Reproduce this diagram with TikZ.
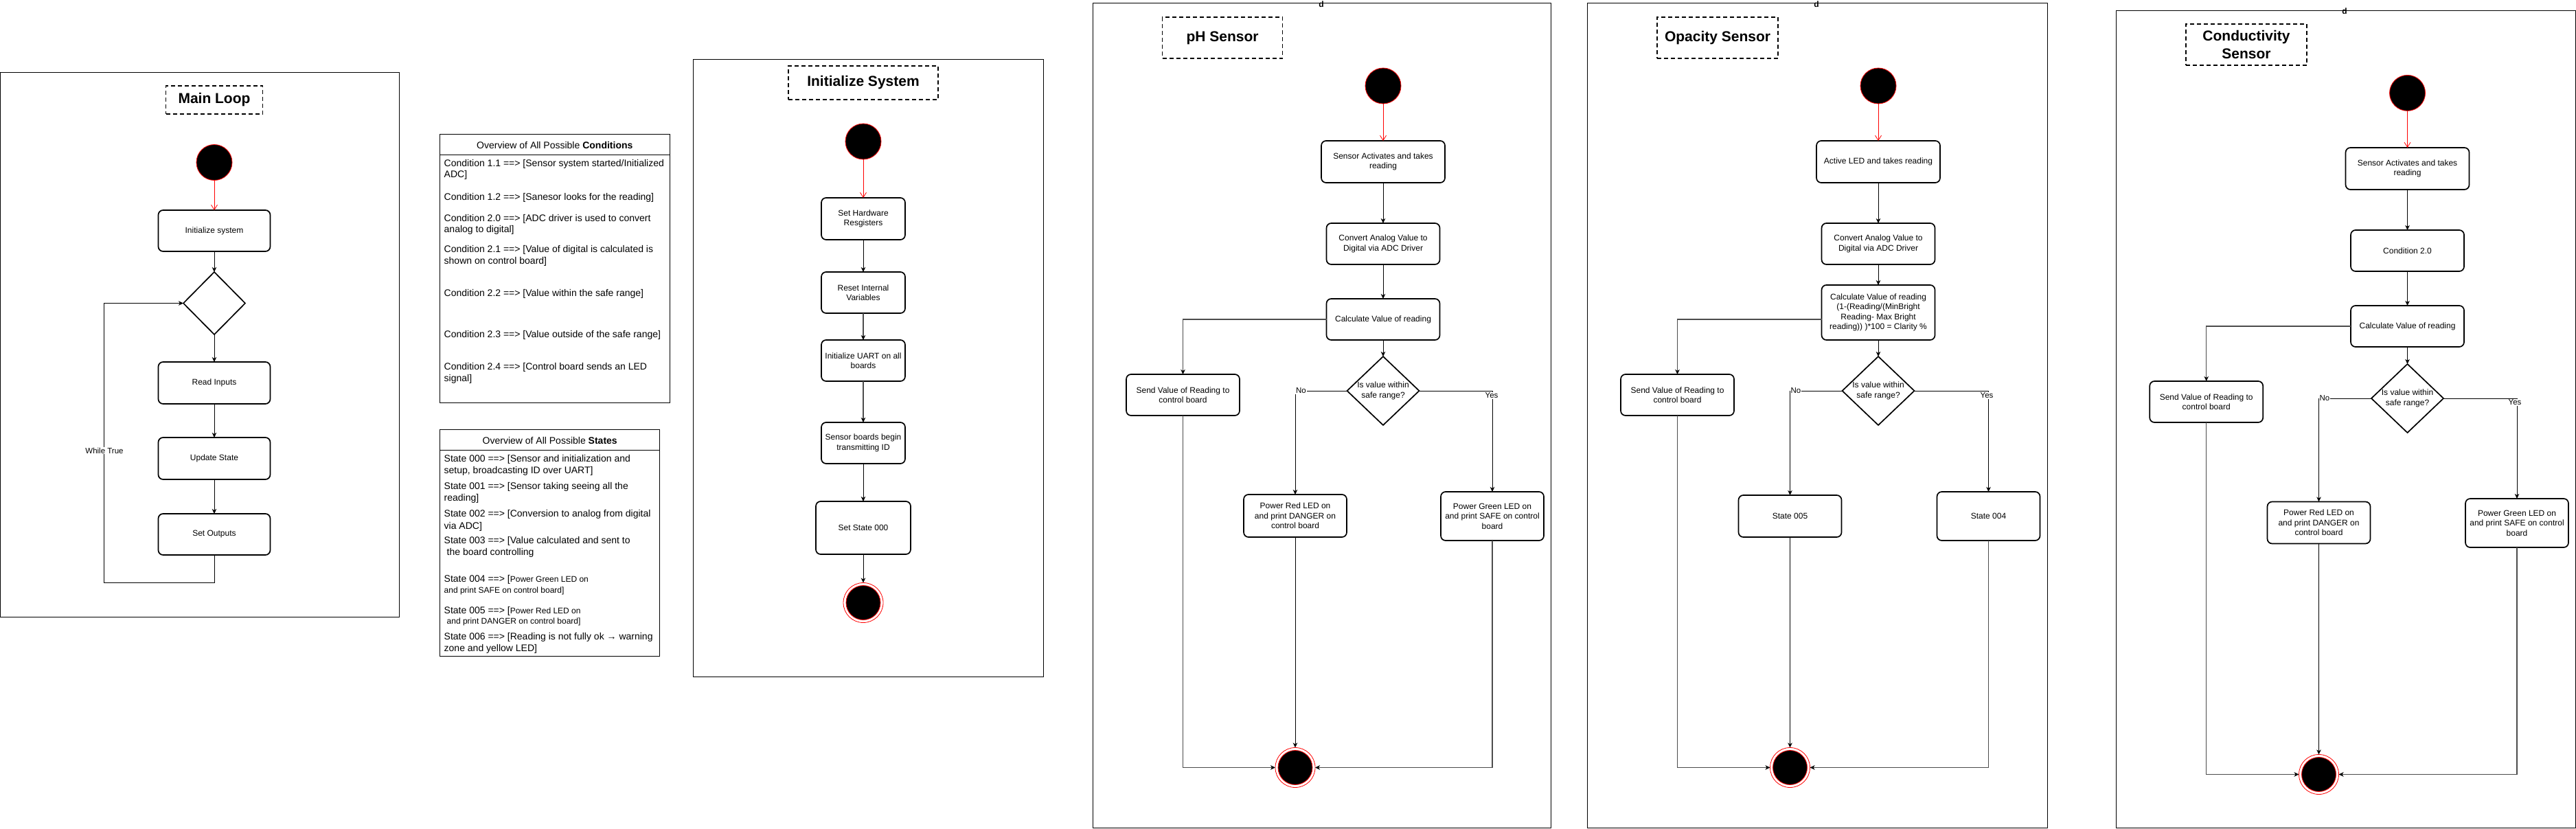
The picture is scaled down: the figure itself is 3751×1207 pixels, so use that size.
\documentclass[tikz,border=0pt]{standalone}
\usepackage{fontspec}
\setmainfont{Liberation Sans}
\usetikzlibrary{arrows.meta,shapes.geometric,calc}
\begin{document}
\begin{tikzpicture}[x=1pt,y=-1pt,
  every node/.style={inner sep=0pt,outer sep=0pt,font=\fontsize{12}{14.5}\selectfont},
  frame/.style={draw=black,line width=1pt},
  box/.style 2 args={draw=black,line width=1.7pt,rounded corners=7pt,align=center,minimum width=#1pt,minimum height=#2pt},
  dianode/.style 2 args={diamond,draw=black,line width=1.7pt,minimum width=#1pt,minimum height=#2pt},
  titlebox/.style 2 args={draw=black,dash pattern=on 6pt off 4pt,line width=1.7pt,minimum width=#1pt,minimum height=#2pt,align=center,font=\fontsize{21}{25.5}\selectfont\bfseries},
  startnode/.style={circle,fill=black,draw=red,line width=0.8pt,minimum size=52pt},
  endnode/.style={circle,draw=red,line width=0.8pt,minimum size=58pt,
    path picture={\fill[black,draw=red,line width=0.8pt] (path picture bounding box.center) circle (25pt);}},
  conn/.style={draw=black,line width=1pt,-{Stealth[length=7pt,width=6.5pt,inset=2pt]}},
  gconn/.style={draw=black!70,line width=1.2pt,-{Stealth[length=7pt,width=6.5pt,inset=2pt,color=black]}},
  redarr/.style={draw=red,line width=0.8pt,-{Straight Barb[length=7pt,width=9pt]}},
  lbl/.style={fill=white,inner sep=1pt,font=\fontsize{11.5}{13}\selectfont},
  qtxt/.style={align=center,font=\fontsize{12}{14.5}\selectfont},
  dmark/.style={font=\fontsize{12}{14}\selectfont\bfseries},
  line/.style={anchor=base west,font=\fontsize{14}{16}\selectfont},
  sline/.style={anchor=base west,font=\fontsize{12}{14}\selectfont},
  hdr/.style={font=\fontsize{14}{16}\selectfont}
]
\useasboundingbox (0,0) rectangle (3751,1207);

% ================= Main Loop =================
\draw[frame] (0.6,105.5) rectangle (581,898);
\node[titlebox={141}{41}] (mlT) at (312,145.5) {Main Loop};
\node[startnode] (mlS) at (312,236.5) {};
\node[box={163}{60}] (mlI) at (312,336) {Initialize system};
\node[dianode={90}{91}] (mlD) at (312,441.5) {};
\node[box={163}{61}] (mlR) at (312,557.5) {Read Inputs};
\node[box={163}{61}] (mlU) at (312,667.5) {Update State};
\node[box={163}{60}] (mlO) at (312,778) {Set Outputs};
\coordinate (mlL) at (151,848);
\draw[redarr] (mlS) -- (mlI);
\draw[conn] (mlI) -- (mlD);
\draw[conn] (mlD) -- (mlR);
\draw[conn] (mlR) -- (mlU);
\draw[conn] (mlU) -- (mlO);
\draw[conn] (mlO.south) |- (mlL) |- (mlD.west);
\node[lbl] (mlW) at (152,656) {While True};

% ================= Conditions =================
\draw[line width=1pt] (640.7,195) rectangle (975,586);
\draw[line width=1pt] (640.7,225) -- (975,225);
\node[hdr] (condH) at (807.8,211) {Overview of All Possible \textbf{Conditions}};
\node[line] (c1) at (646.7,242.3) {Condition 1.1 ==> [Sensor system started/Initialized};
\node[line] (c2) at (646.7,258.3) {ADC]};
\node[line] (c3) at (646.7,291.7) {Condition 1.2 ==> [Sanesor looks for the reading]};
\node[line] (c4) at (646.7,322.3) {Condition 2.0 ==> [ADC driver is used to convert};
\node[line] (c5) at (646.7,338.3) {analog to digital]};
\node[line] (c6) at (646.7,367.7) {Condition 2.1 ==> [Value of digital is calculated is};
\node[line] (c7) at (646.7,384.3) {shown on control board]};
\node[line] (c8) at (646.7,431.7) {Condition 2.2 ==> [Value within the safe range]};
\node[line] (c9) at (646.7,491.7) {Condition 2.3 ==> [Value outside of the safe range]};
\node[line] (c10) at (646.7,538.3) {Condition 2.4 ==> [Control board sends an LED};
\node[line] (c11) at (646.7,555) {signal]};

% ================= States =================
\draw[line width=1pt] (640.7,625) rectangle (960.7,955);
\draw[line width=1pt] (640.7,655) -- (960.7,655);
\node[hdr] (stH) at (800.7,641.7) {Overview of All Possible \textbf{States}};
\node[line] (s1) at (646.7,672.3) {State 000 ==> [Sensor and initialization and};
\node[line] (s2) at (646.7,689) {setup, broadcasting ID over UART]};
\node[line] (s3) at (646.7,712.3) {State 001 ==> [Sensor taking seeing all the};
\node[line] (s4) at (646.7,729) {reading]};
\node[line] (s5) at (646.7,752.3) {State 002 ==> [Conversion to analog from digital};
\node[line] (s6) at (646.7,770) {via ADC]};
\node[line] (s7) at (646.7,791.7) {State 003 ==> [Value calculated and sent to};
\node[line] (s8) at (650.7,808.3) {the board controlling};
\node[line] (s9) at (646.7,847.7) {State 004 ==> [{\fontsize{12}{14}\selectfont Power Green LED on}};
\node[sline] (s10) at (646.7,863.6) {and print SAFE on control board]};
\node[line] (s11) at (646.7,893.3) {State 005 ==> [{\fontsize{12}{14}\selectfont Power Red LED on}};
\node[sline] (s12) at (650.7,908.3) {and print DANGER on control board]};
\node[line] (s13) at (646.7,931.7) {State 006 ==> [Reading is not fully ok → warning};
\node[line] (s14) at (646.7,948.3) {zone and yellow LED]};

% ================= Initialize System =================
\draw[frame] (1009,86) rectangle (1519,985);
\node[titlebox={218}{49}] (inT) at (1257,120.5) {Initialize System};
\node[startnode] (inS) at (1257,206) {};
\node[box={122}{61}] (in1) at (1257,318.5) {Set Hardware\\Resgisters};
\node[box={122}{60}] (in2) at (1257,426) {Reset Internal\\Variables};
\node[box={122}{60}] (in3) at (1257,525) {Initialize UART on all\\boards};
\node[box={122}{60}] (in4) at (1257,645) {Sensor boards begin\\transmitting ID};
\node[box={138}{77}] (in5) at (1257,768.5) {Set State 000};
\node[endnode] (inX) at (1257,877.5) {};
\draw[redarr] (inS) -- (in1);
\draw[conn] (in1) -- (in2);
\draw[gconn] (in2) -- (in3);
\draw[gconn] (in3) -- (in4);
\draw[conn] (in4) -- (in5);
\draw[conn] (in5) -- (inX);

% ================= pH Sensor =================
\draw[frame] (1591,5) rectangle (2258,1205);
\node[dmark] (phd) at (1924,6.5) {d};
\node[titlebox={175}{60}] (phT) at (1780,55) {pH Sensor};
\node[startnode] (phS) at (2014,125) {};
\node[box={180}{61}] (phA) at (2014,235.5) {Sensor Activates and takes\\reading};
\node[box={165}{60}] (phB) at (2014,355) {Convert Analog Value to\\Digital via ADC Driver};
\node[box={165}{60}] (phC) at (2014,465) {Calculate Value of reading};
\node[dianode={105}{100}] (phQ) at (2014,569) {};
\node[qtxt] (phQt) at (phQ.center) {Is value within\\safe range?};
\node[box={165}{60}] (phD) at (1722.5,575) {Send Value of Reading to\\control board};
\node[box={150}{62}] (phE) at (1886,751) {Power Red LED on\\and print DANGER on\\control board};
\node[box={150}{71}] (phF) at (2173,751.5) {Power Green LED on\\and print SAFE on control\\board};
\node[endnode] (phX) at (1886,1117.5) {};
\draw[redarr] (phS) -- (phA);
\draw[conn] (phA) -- (phB);
\draw[conn] (phB) -- (phC);
\draw[conn] (phC) -- (phQ);
\draw[gconn] (phC.west) -| (phD.north);
\draw[conn] (phQ.west) -| (phE.north);
\draw[conn] (phQ.east) -| (phF.north);
\draw[gconn] (phD.south) |- (phX.west);
\draw[conn] (phE) -- (phX);
\draw[gconn] (phF.south) |- (phX.east);
\node[lbl,anchor=west] (phNo) at (1886,569) {No};
\node[lbl] (phYes) at (2172,576) {Yes};

% ================= Opacity Sensor =================
\draw[frame] (2311,5) rectangle (2981,1205);
\node[dmark] (opd) at (2645,6.5) {d};
\node[titlebox={176}{60}] (opT) at (2501,55) {Opacity Sensor};
\node[startnode] (opS) at (2735,125) {};
\node[box={180}{61}] (opA) at (2735,235.5) {Active LED and takes reading};
\node[box={165}{60}] (opB) at (2735,355) {Convert Analog Value to\\Digital via ADC Driver};
\node[box={165}{80}] (opC) at (2735,455) {Calculate Value of reading\\(1-(Reading/(MinBright\\Reading- Max Bright\\reading)) )*100 = Clarity \%};
\node[dianode={105}{100}] (opQ) at (2735,569) {};
\node[qtxt] (opQt) at (opQ.center) {Is value within\\safe range?};
\node[box={165}{60}] (opD) at (2442.5,575) {Send Value of Reading to\\control board};
\node[box={150}{61}] (opE) at (2606.5,751.5) {State 005};
\node[box={150}{71}] (opF) at (2895.5,751.5) {State 004};
\node[endnode] (opX) at (2606.5,1117.5) {};
\draw[redarr] (opS) -- (opA);
\draw[conn] (opA) -- (opB);
\draw[conn] (opB) -- (opC);
\draw[conn] (opC) -- (opQ);
\draw[gconn] ([yshift=-10pt]opC.west) -| (opD.north);
\draw[conn] (opQ.west) -| (opE.north);
\draw[conn] (opQ.east) -| (opF.north);
\draw[gconn] (opD.south) |- (opX.west);
\draw[conn] (opE) -- (opX);
\draw[gconn] (opF.south) |- (opX.east);
\node[lbl,anchor=west] (opNo) at (2606.5,569) {No};
\node[lbl] (opYes) at (2893,576) {Yes};

% ================= Conductivity Sensor =================
\draw[frame] (3081,15.5) rectangle (3750,1205);
\node[dmark] (cod) at (3414,16.5) {d};
\node[titlebox={176}{60}] (coT) at (3271,65) {Conductivity\\Sensor};
\node[startnode] (coS) at (3505.5,135.4) {};
\node[box={180}{61}] (coA) at (3505.5,245.5) {Sensor Activates and takes\\reading};
\node[box={165}{60}] (coB) at (3505.5,365) {Condition 2.0};
\node[box={165}{60}] (coC) at (3505.5,475) {Calculate Value of reading};
\node[dianode={105}{100}] (coQ) at (3505.5,580) {};
\node[qtxt] (coQt) at (coQ.center) {Is value within\\safe range?};
\node[box={165}{60}] (coD) at (3212.7,585) {Send Value of Reading to\\control board};
\node[box={150}{61}] (coE) at (3376.5,761) {Power Red LED on\\and print DANGER on\\control board};
\node[box={150}{71}] (coF) at (3665,761.5) {Power Green LED on\\and print SAFE on control\\board};
\node[endnode] (coX) at (3376.5,1127.5) {};
\draw[redarr] (coS) -- (coA);
\draw[conn] (coA) -- (coB);
\draw[conn] (coB) -- (coC);
\draw[conn] (coC) -- (coQ);
\draw[gconn] (coC.west) -| (coD.north);
\draw[conn] (coQ.west) -| (coE.north);
\draw[conn] (coQ.east) -| (coF.north);
\draw[gconn] (coD.south) |- (coX.west);
\draw[conn] (coE) -- (coX);
\draw[gconn] (coF.south) |- (coX.east);
\node[lbl,anchor=west] (coNo) at (3376.5,580) {No};
\node[lbl] (coYes) at (3662,586) {Yes};
\end{tikzpicture}
\end{document}
